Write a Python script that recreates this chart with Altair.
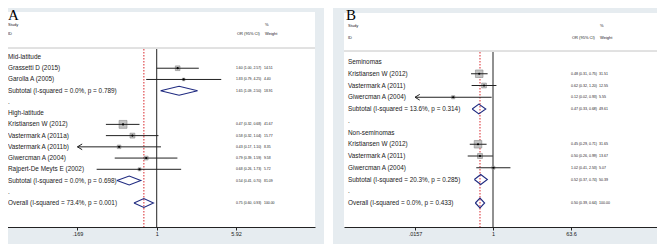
import altair as alt
import pandas as pd

# ---------------- Panel A data ----------------
a_labels = ["Mid-latitude", "Grassetti D (2015)", "Garolla A (2005)",
            "Subtotal  (I-squared = 0.0%, p = 0.789)", ".", "High-latitude",
            "Kristiansen W (2012)", "Vastermark A (2011a)", "Vastermark A (2011b)",
            "Giwercman A (2004)", "Rajpert-De Meyts E (2002)",
            "Subtotal  (I-squared = 0.0%, p = 0.698)", ".",
            "Overall  (I-squared = 73.4%, p = 0.001)"]
a_kind = ["head", "study", "study", "sub", "blank", "head", "study", "study", "study",
          "study", "study", "sub", "blank", "overall"]
a_or = [None, 1.60, 1.83, 1.65, None, None, 0.47, 0.58, 0.43, 0.79, 0.68, 0.54, None, 0.75]
a_lo = [None, 1.00, 0.79, 1.09, None, None, 0.32, 0.32, 0.169, 0.39, 0.26, 0.41, None, 0.60]
a_hi = [None, 2.57, 4.25, 2.50, None, None, 0.68, 1.04, 1.10, 1.59, 1.73, 0.70, None, 0.93]
a_wt = [None, 14.51, 4.40, 18.91, None, None, 41.67, 15.77, 8.35, 9.58, 5.72, 81.09, None, 100.00]
a_ticks = [0.169, 1, 5.92]

# ---------------- Panel B data ----------------
b_labels = ["Seminomas", "Kristiansen W (2012)", "Vastermark A (2011)", "Giwercman A (2004)",
            "Subtotal  (I-squared = 13.6%, p = 0.314)", ".", "Non-seminomas",
            "Kristiansen W (2012)", "Vastermark A (2011)", "Giwercman A (2004)",
            "Subtotal  (I-squared = 20.3%, p = 0.285)", ".",
            "Overall  (I-squared = 0.0%, p = 0.433)"]
b_kind = ["head", "study", "study", "study", "sub", "blank", "head", "study", "study",
          "study", "sub", "blank", "overall"]
b_or = [None, 0.48, 0.62, 0.12, 0.47, None, None, 0.45, 0.50, 1.02, 0.52, None, 0.50]
b_lo = [None, 0.31, 0.32, 0.0157, 0.33, None, None, 0.29, 0.26, 0.41, 0.37, None, 0.39]
b_hi = [None, 0.75, 1.20, 0.93, 0.68, None, None, 0.71, 0.99, 2.53, 0.74, None, 0.64]
b_wt = [None, 31.51, 12.55, 5.55, 49.61, None, None, 31.65, 13.67, 5.07, 50.39, None, 100.00]
b_ticks = [0.0157, 1, 63.6]

FONT = "Liberation Sans"
TXT = "#1a1a1a"
BG = "#e6ecf0"
NAVY = "#1f2a80"
RED = "#d8262b"


def make_df(labels, kind, est, lo, hi, wt, ticks):
    rows = []
    for i, (l, k, e, a, b, w) in enumerate(zip(labels, kind, est, lo, hi, wt)):
        rows.append(dict(
            row=i, label=l, kind=k, est=e, lo=a, hi=b, w=w,
            arrow=(a is not None and a <= ticks[0] + 1e-9),
            ortext=(f"{e:.2f} ({a:.2f}, {b:.2f})" if e is not None else ""),
            wtext=(f"{w:.2f}" if w is not None else ""),
        ))
    return pd.DataFrame(rows)


def diamonds(df, h):
    pts = []
    for _, r in df[df.kind.isin(["sub", "overall"])].iterrows():
        poly = [(r.lo, r.row), (r.est, r.row - h), (r.hi, r.row), (r.est, r.row + h), (r.lo, r.row)]
        for o, (px, py) in enumerate(poly):
            pts.append(dict(g=int(r.row), o=o, px=px, py=py))
    return pd.DataFrame(pts)


def txt(s, x, y, size, align="left", font=FONT, color=TXT, baseline="middle"):
    return alt.Chart(pd.DataFrame({"t": [s]})).mark_text(
        align=align, baseline=baseline, fontSize=size, font=font, color=color
    ).encode(x=alt.value(x), y=alt.value(y), text="t:N")


def rect(x1, x2, y1, y2, color):
    return alt.Chart(pd.DataFrame({"a": [0]})).mark_rect(color=color, opacity=1).encode(
        x=alt.value(x1), x2=alt.value(x2), y=alt.value(y1), y2=alt.value(y2))


def panel(df, ticks, dom, xr, yr, g):
    n = len(df)
    xs = alt.Scale(type="log", domain=dom, range=xr)
    ys = alt.Scale(domain=[0, n - 1], range=yr)
    ax = alt.Axis(values=ticks, orient="bottom", grid=False, title=None, zindex=2,
                  labelExpr="replace(toString(datum.value), '0.', '.')",
                  domainColor="#222", domainWidth=1, tickColor="#222", tickSize=3,
                  labelFont=FONT, labelFontSize=5.5, labelColor=TXT, labelPadding=1.5,
                  labelFlush=False, labelOverlap=False)

    def X(f):
        return alt.X(f"{f}:Q", scale=xs, axis=ax, title=None)

    Y = alt.Y("row:Q", scale=ys, axis=None)
    est = df[df.est.notna()]
    study = df[df.kind == "study"]
    arrows = df[df.arrow]
    dia = diamonds(df, g["dh"])
    overall = float(df[df.kind == "overall"].est.iloc[0])

    layers = [
        # header line
        alt.Chart(pd.DataFrame({"a": [0]})).mark_rule(color="#c4c4c4", strokeWidth=1).encode(
            x=alt.value(g["wx1"]), x2=alt.value(g["wx2"]), y=alt.value(g["hl"])),
        # reference lines
        alt.Chart(pd.DataFrame({"v": [1.0]})).mark_rule(color="#222", strokeWidth=1).encode(
            x=X("v"), y=alt.value(g["hl"] + 1), y2=alt.value(g["ax"])),
        alt.Chart(pd.DataFrame({"v": [overall]})).mark_rule(
            color=RED, strokeWidth=1, strokeDash=[1.5, 1.5]).encode(
            x=X("v"), y=alt.value(g["hl"] + 1), y2=alt.value(g["ax"])),
        # weight boxes
        alt.Chart(study).mark_square(fill="#c3c3c3", stroke="#8a8a8a", strokeWidth=0.6,
                                     opacity=1, fillOpacity=1).encode(
            x=X("est"), y=Y,
            size=alt.Size("w:Q", scale=alt.Scale(domain=[0, 100], range=[0, g["smax"]]), legend=None)),
        # CI lines
        alt.Chart(study).mark_rule(color="#222", strokeWidth=1).encode(
            x=X("lo"), x2="hi:Q", y=Y),
        # point estimates
        alt.Chart(study).mark_circle(size=5, color="#000", opacity=1).encode(x=X("est"), y=Y),
        # arrows for truncated CIs
        alt.Chart(arrows).mark_point(shape="M0,0L1,-0.6M0,0L1,0.6", size=90, filled=False,
                                     stroke="#222", strokeWidth=1, opacity=1).encode(
            x=X("lo"), y=Y),
        # diamonds
        alt.Chart(dia).mark_line(color=NAVY, strokeWidth=1.1).encode(
            x=X("px"), y=alt.Y("py:Q", scale=ys, axis=None), detail="g:N", order="o:Q"),
        # text columns
        alt.Chart(df).mark_text(align="left", baseline="middle", fontSize=g["lf"], font=FONT,
                                color=TXT).encode(x=alt.value(g["lx"]), y=Y, text="label:N"),
        alt.Chart(est).mark_text(align="left", baseline="middle", fontSize=g["cf"], font=FONT,
                                 color=TXT).encode(x=alt.value(g["ox"]), y=Y, text="ortext:N"),
        alt.Chart(est).mark_text(align="left", baseline="middle", fontSize=g["cf"], font=FONT,
                                 color=TXT).encode(x=alt.value(g["wx"]), y=Y, text="wtext:N"),
        # headers
        txt("Study", g["lx"], g["h1"], g["hf"]),
        txt("ID", g["lx"], g["h2"], g["hf"]),
        txt("OR (95% CI)", g["ox"] + 1, g["h2"], g["hf"]),
        txt("%", g["wx"] + 1, g["h1"], g["hf"]),
        txt("Weight", g["wx"] + 1, g["h2"], g["hf"]),
    ]
    return alt.layer(*layers)


dfA = make_df(a_labels, a_kind, a_or, a_lo, a_hi, a_wt, a_ticks)
dfB = make_df(b_labels, b_kind, b_or, b_lo, b_hi, b_wt, b_ticks)

gA = dict(lx=0, ox=228, wx=256, h1=16.5, h2=26, hl=40, ax=219, wx1=0, wx2=307,
          lf=6.4, cf=3.45, hf=4.0, smax=150, dh=0.4)
gB = dict(lx=340, ox=563, wx=591, h1=17.5, h2=29.5, hl=43, ax=219, wx1=336, wx2=649,
          lf=6.4, cf=3.55, hf=4.0, smax=180, dh=0.42)

pA = panel(dfA, a_ticks, [0.0333, 34.8], [-3, 307], [49, 195], gA)
pB = panel(dfB, b_ticks, [0.000358, 6200], [336, 649], [54, 195], gB)

backgrounds = [
    rect(0, 316, 0, 236, BG),
    rect(325, 649, 0, 236, BG),
    rect(0, 307, 4, 219, "white"),
    rect(336, 649, 5, 219, "white"),
]

letters = [
    txt("A", 0, 0, 15, font="Liberation Serif", color="#000", baseline="top"),
    txt("B", 338, 0, 15, font="Liberation Serif", color="#000", baseline="top"),
]

chart = alt.layer(*backgrounds, pA, pB, *letters).resolve_scale(
    x="independent", y="independent", size="independent"
).resolve_axis(x="independent", y="independent").properties(
    width=649, height=219,
    padding={"left": 0, "right": 0, "top": 0, "bottom": 17},
    autosize=alt.AutoSizeParams(type="none"),
    background="white",
).configure_view(stroke=None)

chart.save("out.html", embed_options={"renderer": "svg", "actions": False})
